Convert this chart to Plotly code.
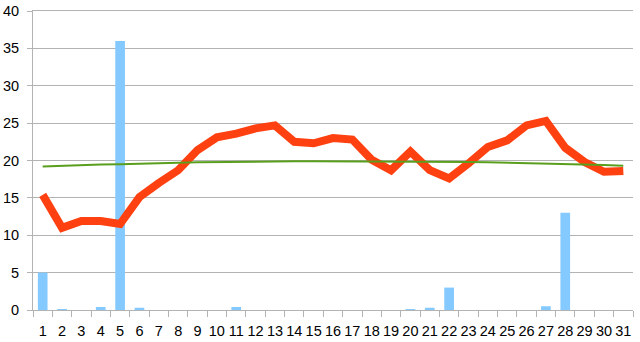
import plotly.graph_objects as go

days = [str(i) for i in range(1, 32)]
rain = [5.0, 0.1, 0, 0.4, 36.0, 0.3, 0, 0, 0, 0, 0.4, 0, 0, 0, 0, 0, 0, 0, 0, 0.1, 0.3, 3.0, 0, 0, 0, 0, 0.5, 13.0, 0, 0, 0]
temp = [15.4, 11.0, 11.9, 11.9, 11.5, 15.1, 17.0, 18.7, 21.4, 23.1, 23.6, 24.3, 24.7, 22.5, 22.3, 23.0, 22.8,
        20.1, 18.7, 21.2, 18.7, 17.6, 19.6, 21.8, 22.7, 24.7, 25.3, 21.7, 19.8, 18.5, 18.6]
trend = [19.2, 19.3, 19.4, 19.45, 19.5, 19.6, 19.65, 19.7, 19.75, 19.8, 19.85, 19.9, 19.9, 19.9, 19.9, 19.9, 19.9,
         19.9, 19.9, 19.9, 19.85, 19.8, 19.8, 19.75, 19.7, 19.65, 19.6, 19.5, 19.45, 19.4, 19.3]
yticks = [0, 5, 10, 15, 20, 25, 30, 35, 40]

fig = go.Figure()
fig.add_trace(go.Bar(x=days, y=rain, marker=dict(color="#84c9ff", line=dict(width=0)), width=0.5))
fig.add_trace(go.Scatter(x=days, y=temp, mode="lines", line=dict(color="#ff4010", width=8)))
fig.add_trace(go.Scatter(x=days, y=trend, mode="lines", line=dict(color="#5a9e1e", width=2)))

fig.update_layout(
    width=640, height=342, margin=dict(l=33, r=7, t=11, b=32, autoexpand=False),
    paper_bgcolor="white", plot_bgcolor="white", showlegend=False,
    font=dict(family="Liberation Sans, Arial", size=14.5, color="#000000"),
)
fig.update_xaxes(type="category", tickson="boundaries", ticks="outside", ticklen=6, tickcolor="#b3b3b3",
                 showline=True, linecolor="#b3b3b3", linewidth=1, showgrid=False, mirror=True,
                 tickangle=0, tickfont=dict(size=14.5), ticklabelstandoff=8,
                 range=[-0.5, 30.5], automargin=False)
fig.update_yaxes(range=[0, 40], tickvals=yticks, showgrid=True, gridcolor="#b3b3b3", gridwidth=1,
                 showline=True, linecolor="#b3b3b3", ticks="outside", ticklen=5, tickcolor="#b3b3b3",
                 zeroline=False, tickfont=dict(size=14.5), ticklabelstandoff=5, automargin=False)

fig.write_html("out.html")
